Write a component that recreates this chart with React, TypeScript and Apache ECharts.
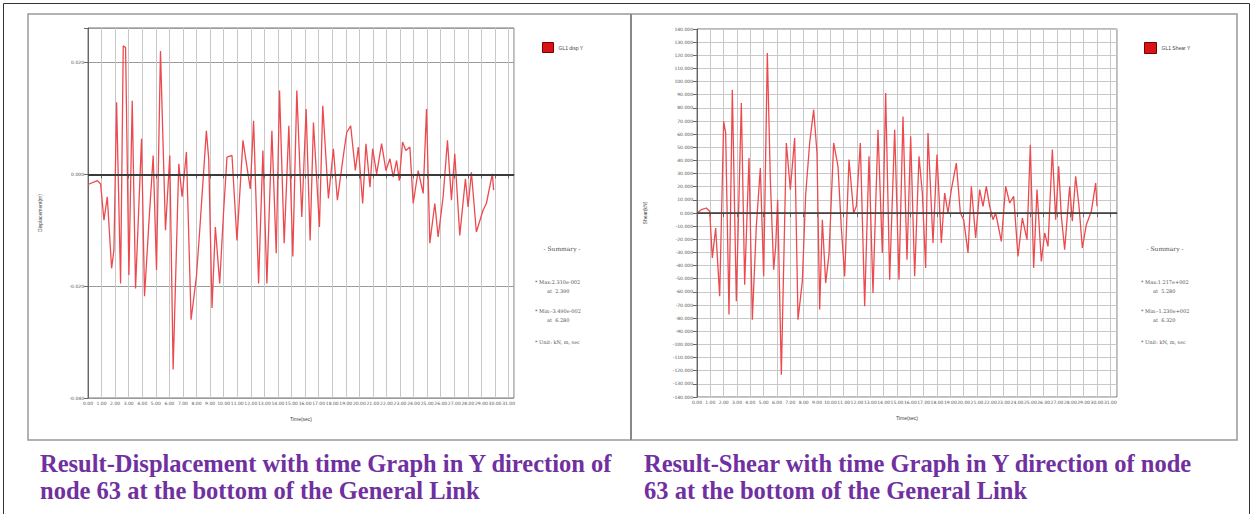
import { useEffect, useRef } from "react";
import * as echarts from "echarts";

// Displacement time history (time in sec, displacement in m)
const dispTime = [0, 0.686, 0.931, 1.176, 1.422, 1.74, 1.912, 2.108, 2.402, 2.598, 2.77, 3.015, 3.26, 3.505, 3.946, 4.167, 4.485, 4.804, 5.049, 5.343, 5.711, 6.029, 6.275, 6.691, 6.936, 7.255, 7.598, 7.99, 8.235, 8.725, 8.897, 9.142, 9.387, 9.706, 10.0, 10.245, 10.613, 10.98, 11.422, 11.961, 12.206, 12.574, 12.892, 13.186, 13.554, 13.873, 14.118, 14.461, 14.804, 15.098, 15.392, 15.76, 16.078, 16.373, 16.618, 17.059, 17.304, 17.721, 18.088, 18.382, 18.824, 19.069, 19.363, 19.706, 19.926, 20.245, 20.49, 20.784, 20.98, 21.275, 21.642, 21.961, 22.255, 22.5, 22.745, 22.941, 23.186, 23.431, 23.725, 23.971, 24.338, 24.706, 24.951, 25.196, 25.564, 25.809, 26.176, 26.495, 26.789, 27.034, 27.402, 27.819, 28.015, 28.26, 28.627, 29.118, 29.363, 29.804, 29.9];
const dispValue = [-0.0018, -0.0011, -0.0017, -0.0082, -0.004, -0.0168, -0.0135, 0.0129, -0.0195, 0.023, 0.0227, -0.018, 0.0132, -0.0204, 0.0064, -0.0218, -0.0088, 0.0034, -0.0171, 0.0221, -0.01, 0.0034, -0.0349, 0.0019, -0.004, 0.004, -0.026, -0.0183, -0.01, 0.0078, 0.0028, -0.0239, -0.0094, -0.0195, -0.0064, 0.0031, 0.0034, -0.0118, 0.0061, -0.0026, 0.0096, -0.0195, 0.0043, -0.0195, 0.0078, -0.0141, 0.015, -0.0123, 0.0087, -0.0147, 0.015, -0.0076, 0.0117, -0.0118, 0.0093, -0.0094, 0.0123, -0.0043, 0.0046, -0.0046, 0.0034, 0.0075, 0.0087, 0.0007, 0.0049, -0.0052, 0.0055, -0.0023, 0.0046, 0.0001, 0.0055, 0.0007, 0.0028, -0.0005, 0.0025, -0.0011, 0.0058, 0.0043, 0.0049, -0.0052, 0.0007, -0.0034, 0.0117, -0.0123, -0.0052, -0.0112, -0.004, 0.0061, -0.0046, 0.0037, -0.0109, -0.0008, -0.0058, 0.0004, -0.0103, -0.0064, -0.0052, 0.0001, -0.0028];
const dispBaseline = -0.0018;

// Shear time history (time in sec, shear in kN)
const shearTime = [0, 0.325, 0.7, 0.95, 1.15, 1.4, 1.7, 2.0, 2.15, 2.4, 2.65, 2.95, 3.325, 3.575, 3.9, 4.15, 4.45, 4.75, 5.0, 5.275, 5.5, 5.75, 5.9, 6.05, 6.325, 6.7, 7.0, 7.325, 7.575, 7.9, 8.15, 8.45, 8.75, 9.0, 9.2, 9.4, 9.65, 9.9, 10.25, 10.575, 10.825, 11.075, 11.4, 11.75, 11.95, 12.25, 12.575, 12.9, 13.2, 13.575, 13.9, 14.15, 14.45, 14.825, 15.15, 15.45, 15.75, 16.025, 16.325, 16.65, 16.9, 17.15, 17.325, 17.7, 18.0, 18.325, 18.575, 18.825, 19.075, 19.45, 19.75, 20.0, 20.325, 20.575, 20.9, 21.2, 21.45, 21.7, 21.95, 22.2, 22.4, 22.825, 23.15, 23.45, 23.75, 24.075, 24.4, 24.75, 25.0, 25.25, 25.5, 25.825, 26.075, 26.325, 26.65, 26.9, 27.125, 27.325, 27.575, 27.95, 28.15, 28.4, 28.65, 28.9, 29.2, 29.575, 29.9, 30.0];
const shearValue = [0, 2.5, 3.8, 1.3, -34.2, -11.4, -63.4, 69.7, 60.9, -77.3, 93.8, -67.2, 83.7, -54.5, 41.8, -81.2, -10.1, 34.2, -48.2, 121.7, 25.4, -43.1, -25.4, 10.1, -123.0, 53.3, 17.8, 57.1, -81.2, -52.0, 13.9, 53.3, 78.6, 45.6, -73.5, -5.1, -53.3, -31.7, 53.3, 35.5, -11.4, -48.2, 40.6, 0, 5.1, 53.3, -71.0, 43.1, -60.9, 63.4, -30.4, 91.3, -50.7, 63.4, -50.7, 73.5, -35.5, 58.3, -48.2, 43.1, 15.2, -41.8, 60.9, -22.8, 44.4, -22.8, 15.2, 0, 17.8, 38.0, 0, -5.1, -30.4, 20.3, -19.0, 17.8, 5.1, 20.3, 5.1, -5.1, 0, -21.6, 20.3, 7.6, 12.7, -33.0, -3.8, -20.3, 52.0, -41.8, 17.8, -36.8, -15.2, -25.4, 48.2, -5.1, 35.5, -2.5, -27.9, 20.3, -6.3, 27.9, 5.1, -26.6, -8.9, 1.3, 22.8, 5.1];

const dispName = "GL1 disp Y";
const shearName = "GL1 Shear Y";
const dispSummary = ["- Summary -", "* Max:2.310e-002", "at  2.390", "* Min:-3.490e-002", "at  6.280", "* Unit: kN, m, sec"];
const shearSummary = ["- Summary -", "* Max:1.217e+002", "at  5.280", "* Min:-1.230e+002", "at  6.320", "* Unit: kN, m, sec"];
const captionLeft = ["Result-Displacement with time Graph in Y direction of", "node 63 at the bottom of the General Link"];
const captionRight = ["Result-Shear with time Graph in Y direction of node", "63 at the bottom of the General Link"];

const zip = (a: number[], b: number[]) => a.map((t, i) => [t, b[i]]);

const tinyLabel = { fontSize: 4.5, color: "#555", fontFamily: "DejaVu Sans" };

function summaryGraphics(lines: string[], cx: number, left: number) {
  const ys = [248, 282, 291, 311, 320, 342];
  return lines.map((t, i) => ({
    type: "text",
    x: i === 0 ? cx : i === 2 || i === 4 ? left + 12 : left,
    y: ys[i],
    style: {
      text: t,
      fontSize: i === 0 ? 6 : 5,
      fontFamily: "DejaVu Serif",
      fill: "#555",
      textAlign: i === 0 ? "center" : "left",
      textVerticalAlign: "middle",
    },
  }));
}

export default function App() {
  const ref = useRef<HTMLDivElement>(null);
  useEffect(() => {
    document.body.style.margin = "0";
    const chart = echarts.init(ref.current!, null, { renderer: "svg" });
    const option: any = {
      animation: false,
      backgroundColor: "#ffffff",
      grid: [
        { left: 88, top: 28, width: 426, height: 370, show: true, borderColor: "#777", borderWidth: 1, backgroundColor: "#fff" },
        { left: 697, top: 29, width: 420, height: 368, show: true, borderColor: "#777", borderWidth: 1, backgroundColor: "#fff" },
      ],
      legend: [
        { data: [dispName], left: 537, top: 37, itemWidth: 11, itemHeight: 10, icon: "rect", itemGap: 4, textStyle: { fontSize: 5, color: "#444" }, itemStyle: { color: "#d81418", borderColor: "#700", borderWidth: 1 } },
        { data: [shearName], left: 1139, top: 37, itemWidth: 12, itemHeight: 11, icon: "rect", itemGap: 4, textStyle: { fontSize: 5, color: "#444" }, itemStyle: { color: "#d81418", borderColor: "#700", borderWidth: 1 } },
      ],
      xAxis: [
        {
          type: "value", gridIndex: 0, min: 0, max: 31.4, interval: 1,
          name: "Time(sec)", nameLocation: "middle", nameGap: 18, nameTextStyle: { fontSize: 5, color: "#444" },
          axisLine: { lineStyle: { color: "#666" } },
          axisTick: { length: 4, lineStyle: { color: "#666" } },
          axisLabel: { ...tinyLabel, margin: 3, formatter: (v: number) => v.toFixed(2), hideOverlap: false },
          splitLine: { show: true, lineStyle: { color: "#c8c8c8", width: 1 } },
        },
        {
          type: "value", gridIndex: 1, min: 0, max: 31.5, interval: 1,
          name: "Time(sec)", nameLocation: "middle", nameGap: 18, nameTextStyle: { fontSize: 5, color: "#444" },
          axisLine: { lineStyle: { color: "#666" } },
          axisTick: { length: 4, lineStyle: { color: "#666" } },
          axisLabel: { ...tinyLabel, margin: 3, formatter: (v: number) => v.toFixed(2), hideOverlap: false },
          splitLine: { show: true, lineStyle: { color: "#c8c8c8", width: 1 } },
        },
      ],
      yAxis: [
        {
          type: "value", gridIndex: 0, min: -0.04, max: 0.0262, interval: 0.02,
          name: "Displacement(m)", nameLocation: "middle", nameGap: 46, nameRotate: 90, nameTextStyle: { fontSize: 5, color: "#444" },
          axisLine: { show: true, lineStyle: { color: "#666" } },
          axisTick: { show: true, length: 4, lineStyle: { color: "#666" } },
          axisLabel: {
            ...tinyLabel, margin: 4,
            formatter: (v: number) => (Math.abs(v / 0.02 - Math.round(v / 0.02)) < 1e-6 ? v.toFixed(3) : ""),
          },
          splitLine: { show: true, lineStyle: { color: "#9a9a9a", width: 1 } },
        },
        {
          type: "value", gridIndex: 1, min: -140, max: 140, interval: 10,
          name: "Shear(kN)", nameLocation: "middle", nameGap: 50, nameRotate: 90, nameTextStyle: { fontSize: 5, color: "#444" },
          axisLine: { show: true, lineStyle: { color: "#666" } },
          axisTick: { show: true, length: 4, lineStyle: { color: "#666" } },
          axisLabel: { ...tinyLabel, margin: 4, formatter: (v: number) => v.toFixed(3) },
          splitLine: { show: true, lineStyle: { color: "#c8c8c8", width: 1 } },
        },
      ],
      series: [
        {
          name: dispName, type: "line", xAxisIndex: 0, yAxisIndex: 0, showSymbol: false,
          data: zip(dispTime, dispValue),
          lineStyle: { color: "#ec4a4f", width: 1.3 }, itemStyle: { color: "#d81418" },
          markLine: { silent: true, symbol: "none", label: { show: false }, lineStyle: { color: "#3a3a3a", width: 1.8, type: "solid" }, data: [{ yAxis: dispBaseline }] },
        },
        {
          name: shearName, type: "line", xAxisIndex: 1, yAxisIndex: 1, showSymbol: false,
          data: zip(shearTime, shearValue),
          lineStyle: { color: "#ec4a4f", width: 1.3 }, itemStyle: { color: "#d81418" },
          markLine: { silent: true, symbol: "none", label: { show: false }, lineStyle: { color: "#3a3a3a", width: 1.5, type: "solid" }, data: [{ yAxis: 0 }] },
        },
      ],
      graphic: [
        { type: "rect", shape: { x: 3.5, y: 3.5, width: 1246, height: 530 }, style: { fill: "none", stroke: "#333", lineWidth: 1 }, silent: true },
        { type: "rect", shape: { x: 28, y: 14, width: 1209, height: 426 }, style: { fill: "none", stroke: "#999", lineWidth: 1.5 }, silent: true },
        { type: "line", shape: { x1: 631, y1: 14, x2: 631, y2: 440 }, style: { stroke: "#888", lineWidth: 2 }, silent: true },
        ...summaryGraphics(dispSummary, 562, 535),
        ...summaryGraphics(shearSummary, 1165, 1141),
        ...captionLeft.map((t, i) => ({
          type: "text", x: 40, y: 463 + i * 27,
          style: { text: t, font: 'bold 24.5px "Liberation Serif"', fill: "#7030a0", textVerticalAlign: "middle" },
        })),
        ...captionRight.map((t, i) => ({
          type: "text", x: 644, y: 463 + i * 27,
          style: { text: t, font: 'bold 24.5px "Liberation Serif"', fill: "#7030a0", textVerticalAlign: "middle" },
        })),
      ],
    };
    chart.setOption(option);
    return () => chart.dispose();
  }, []);
  return <div ref={ref} style={{ width: 1253, height: 514 }} />;
}
